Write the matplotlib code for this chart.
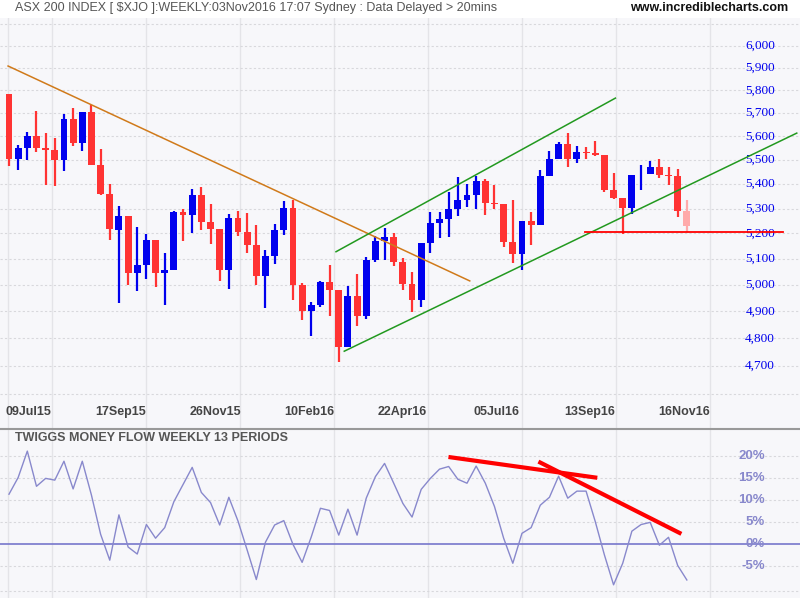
import matplotlib.pyplot as plt
import numpy as np
from matplotlib.ticker import FixedLocator, NullLocator, NullFormatter

# weekly OHLC, ASX 200
opens = [5785, 5506, 5552, 5602, 5552, 5544, 5498, 5676, 5573, 5707,
         5480, 5359, 5215, 5269, 5046, 5076, 5174, 5046, 5056, 5286,
         5275, 5355, 5246, 5219, 5057, 5263, 5207, 5156, 5034, 5112,
         5215, 5302, 4998, 4900, 4922, 5012, 4981, 4768, 4958, 4883,
         5097, 5171, 5186, 5089, 5002, 4943, 5163, 5241, 5257, 5298,
         5334, 5355, 5413, 5322, 5318, 5167, 5121, 5249, 5233, 5434,
         5504, 5568, 5504, 5534, 5530, 5522, 5375, 5343, 5303, 5440,
         5442, 5471, 5438, 5434, 5291]
highs = [5785, 5564, 5620, 5711, 5616, 5594, 5698, 5724, 5707, 5736,
         5546, 5399, 5310, 5269, 5226, 5197, 5174, 5124, 5290, 5299,
         5379, 5387, 5318, 5219, 5278, 5290, 5282, 5233, 5135, 5238,
         5330, 5334, 5007, 4936, 5016, 5076, 4981, 4997, 5042, 5107,
         5188, 5222, 5200, 5105, 5049, 5163, 5286, 5286, 5366, 5430,
         5400, 5434, 5419, 5396, 5318, 5333, 5249, 5286, 5458, 5537,
         5576, 5614, 5560, 5556, 5581, 5522, 5445, 5343, 5438, 5479,
         5497, 5505, 5471, 5463, 5334]
lows = [5474, 5458, 5498, 5532, 5396, 5390, 5456, 5557, 5536, 5480,
        5356, 5174, 4931, 4999, 4977, 5023, 4993, 4922, 5056, 5170,
        5200, 5212, 5160, 5014, 4984, 5191, 5124, 4999, 4912, 5079,
        5195, 4941, 4869, 4808, 4915, 4881, 4713, 4768, 4844, 4872,
        5089, 5094, 5074, 4981, 4898, 4917, 5123, 5183, 5186, 5271,
        5306, 5298, 5274, 5298, 5148, 5085, 5056, 5155, 5233, 5434,
        5504, 5472, 5488, 5504, 5515, 5368, 5339, 5197, 5278, 5375,
        5442, 5426, 5394, 5265, 5207]
closes = [5506, 5552, 5602, 5552, 5544, 5498, 5676, 5573, 5707, 5480,
          5359, 5219, 5269, 5046, 5076, 5174, 5046, 5056, 5286, 5275,
          5355, 5246, 5219, 5057, 5263, 5207, 5156, 5034, 5111, 5215,
          5302, 4998, 4900, 4922, 5012, 4981, 4768, 4958, 4883, 5097,
          5171, 5186, 5089, 5002, 4943, 5163, 5241, 5257, 5298, 5334,
          5355, 5413, 5322, 5319, 5168, 5121, 5249, 5233, 5434, 5504,
          5568, 5504, 5534, 5530, 5522, 5375, 5343, 5303, 5438, 5442,
          5471, 5438, 5435, 5291, 5229]

# Twiggs Money Flow (13 weeks), %
tmf = [11.4, 15.2, 21.2, 13.2, 15.0, 14.6, 18.9, 12.6, 18.9, 11.2,
       2.3, -3.6, 6.7, -0.6, -2.2, 4.5, 1.4, 3.8, 9.7, 13.6,
       17.5, 11.8, 9.5, 4.4, 10.7, 5.3, -1.3, -8.0, 0.5, 4.4,
       5.4, 0.0, -4.1, 1.7, 8.2, 7.7, 2.1, 8.0, 2.1, 10.5,
       15.4, 18.4, 13.9, 9.3, 6.2, 12.5, 15.0, 17.1, 17.7, 14.8,
       13.9, 17.8, 13.9, 8.6, 1.4, -4.3, 2.5, 3.8, 8.9, 10.7,
       15.5, 10.5, 12.1, 12.1, 5.2, -2.4, -9.2, -4.3, 3.0, 4.5,
       5.0, -0.2, 1.6, -4.8, -8.1]

date_labels = ['09Jul15', '17Sep15', '26Nov15', '10Feb16', '22Apr16', '05Jul16', '13Sep16', '16Nov16']
price_ticks = [4700, 4800, 4900, 5000, 5100, 5200, 5300, 5400, 5500, 5600, 5700, 5800, 5900, 6000]
tmf_ticks = [20, 15, 10, 5, 0, -5]

# trend lines: (week index, value)
down_line = [(-0.1, 5909), (50.3, 5015)]
chan_upper = [(35.7, 5128), (66.2, 5766)]
chan_lower = [(36.6, 4753), (86.0, 5614)]
support = [(62.9, 5206), (84.5, 5206)]
tmf_line1 = [(48.2, 19.8), (64.0, 15.2)]
tmf_line2 = [(58.0, 18.6), (73.2, 2.6)]

BG = '#f7f7fa'
GRID = '#d8d8dc'
STEP = 9.16  # px per week
def px2i(px):
    return (px - 9) / STEP

xlim = (px2i(0), px2i(800))
vgrid = [px2i(8)] + [px2i(52 + 94 * j) for j in range(8)]

fig = plt.figure(figsize=(8, 6), dpi=100, facecolor='white')
ax = fig.add_axes([0, 1 - 428 / 600, 1, 410 / 600], facecolor=BG)
ax2 = fig.add_axes([0, 2 / 600, 1, 168 / 600], facecolor=BG)

for a in (ax, ax2):
    for s in a.spines.values():
        s.set_visible(False)
    a.set_xlim(*xlim)
    a.set_xticks([])
    for v in vgrid:
        a.axvline(v, color='#e4e4e8', lw=1, zorder=0)

# price panel
ax.set_yscale('log')
ax.set_ylim(6000 * np.exp(-382 / 1310), 6000 * np.exp(28 / 1310))
ax.yaxis.set_major_locator(NullLocator())
ax.yaxis.set_minor_locator(NullLocator())
ax.yaxis.set_minor_formatter(NullFormatter())
for p in range(4600, 6200, 100):
    ax.axhline(p, color=GRID, lw=0.8, ls=(0, (2, 2)), zorder=0)
for p in price_ticks:
    ax.text(px2i(775), p, f'{p:,}', color='#0000ee', fontsize=9.5,
            family='Liberation Serif', ha='right', va='center')

n = len(opens)
for i in range(n):
    o, h, l, c = opens[i], highs[i], lows[i], closes[i]
    col = '#0000ee' if c > o else '#ff3333'
    if i == n - 1:
        col = '#ffaaaa'
    ax.vlines(i, l, h, color=col, lw=1.6, zorder=3)
    lo, hi = min(o, c), max(o, c)
    if hi - lo < 3:
        hi = lo + 3
    ax.bar(i, hi - lo, bottom=lo, width=0.75, color=col, lw=0, zorder=4)

for line, col in ((down_line, '#d07a1a'), (chan_upper, '#22991f'), (chan_lower, '#22991f')):
    xs, ys = zip(*line)
    ax.plot(xs, ys, color=col, lw=1.1, zorder=5)
xs, ys = zip(*support)
ax.plot(xs, ys, color='#ff0000', lw=1.3, zorder=5)

label_px = [28, 121, 215, 309, 402, 496, 590, 684]
for lab, xp in zip(date_labels, label_px):
    ax.text(px2i(xp), 6000 * np.exp(-366 / 1310), lab, color='#444444', fontsize=9,
            fontweight='bold', ha='center', va='center', family='Liberation Sans')

fig.text(15 / 800, 1 - 8 / 600, 'ASX 200 INDEX [ $XJO ]:WEEKLY:03Nov2016 17:07 Sydney : Data Delayed > 20mins',
         color='#555555', fontsize=9, ha='left', va='center', family='Liberation Sans')
fig.text(788 / 800, 1 - 8 / 600, 'www.incrediblecharts.com', color='#111111', fontsize=9,
         fontweight='bold', ha='right', va='center', family='Liberation Sans')

# money flow panel
ax2.set_ylim(-12.2, 26.0)
ax2.set_yticks([])
for v in [20, 15, 10, 5, -5, -10.6]:
    ax2.axhline(v, color=GRID, lw=0.8, ls=(0, (2, 2)), zorder=0)
ax2.axhline(0, color='#7777cc', lw=1.2, zorder=1)
for v in tmf_ticks:
    ax2.text(px2i(765), v, f'{v}%', color='#8888cc', fontsize=9.5, fontweight='bold',
             ha='right', va='center', family='Liberation Sans')
ax2.plot(np.arange(len(tmf)), tmf, color='#8888cc', lw=1.0, zorder=3)
for line in (tmf_line1, tmf_line2):
    xs, ys = zip(*line)
    ax2.plot(xs, ys, color='#ff0000', lw=3, zorder=4)
ax2.text(0.019, 0.95, 'TWIGGS MONEY FLOW WEEKLY 13 PERIODS', transform=ax2.transAxes,
         color='#555555', fontsize=9, fontweight='bold', ha='left', va='center', family='Liberation Sans')

fig.add_artist(plt.Line2D([0, 1], [1 - 429 / 600] * 2, color='#999999', lw=1.5))

fig.savefig('out.png', dpi=100, facecolor='white')
